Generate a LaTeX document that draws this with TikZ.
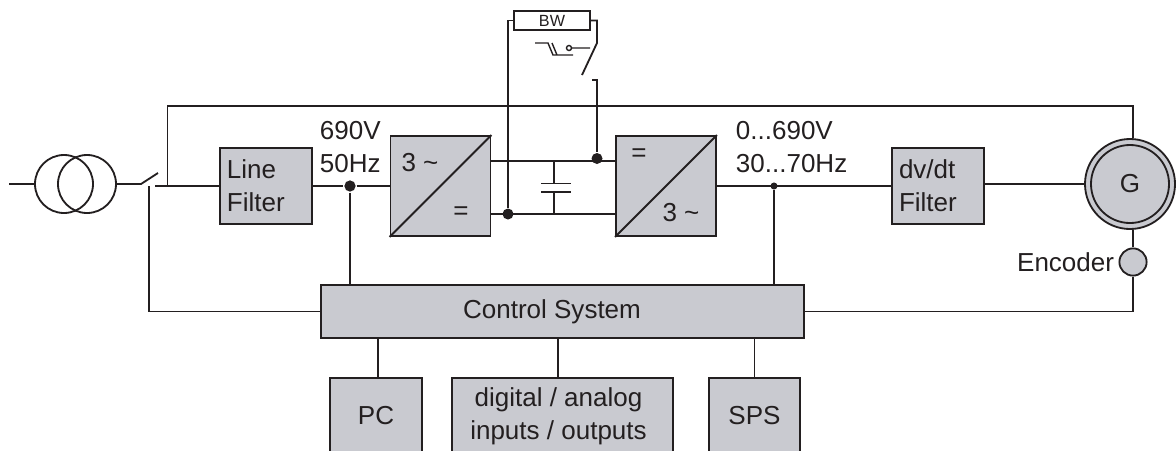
\documentclass[tikz,border=0pt]{standalone}
\usepackage{fontspec}
\setmainfont{Liberation Sans}
\usetikzlibrary{positioning}
\definecolor{boxgray}{HTML}{C9CAD0}
\definecolor{ink}{HTML}{231F20}
\begin{document}
\begin{tikzpicture}[x=0.025cm,y=-0.025cm,line width=1.3pt,color=ink,
				every node/.style={font=\fontsize{18.5}{23.5}\selectfont},
				block/.style={draw, fill=boxgray, inner sep=0pt, align=center},
				conv/.style={block, minimum size=2.5cm},
				filt/.style={block, minimum width=2.3cm, minimum height=1.9cm, text width=1.95cm, align=left},
				iobox/.style={block, minimum height=1.9cm},
				ring/.style={draw, circle, inner sep=0pt, minimum size=1.45cm},
				lbl/.style={inner sep=0pt, align=left},
				dot/.style={fill, circle, inner sep=0pt}]
			\clip (0,0) rectangle (1176,450);
			% mains side
			\coordinate (linein) at (9,184);
			\node[ring] (tra) at (64,184) {};
			\node[ring] (trb) at (87,184) {};
			\coordinate (swa) at (141,184);
			\coordinate (swb) at (158,173);
			\coordinate (swc) at (155,186);
			\coordinate (swd) at (149,186);
			\coordinate (tap) at (167.5,186);
			\coordinate (topr) at (1133,106);
			\node[filt] (flt) at (266,186) {Line\\Filter};
			\node[dot, minimum size=8pt] (dotin) at (350,186) {};
			\node[lbl, anchor=west] (inlbl) at (319,147) {690V\\50Hz};
			% converters
			\node[conv] (conva) at (440.5,186) {};
			\node[conv] (convb) at (666,186) {};
			\node[lbl] (threea) at (420,163) {3 \textasciitilde};
			\node[lbl] (eqa) at (461,213) {=};
			\node[lbl] (eqb) at (639,155) {=};
			\node[lbl] (threeb) at (681,213) {3 \textasciitilde};
			\draw (conva.south west) -- (conva.north east);
			\draw (convb.south west) -- (convb.north east);
			% dc link
			\coordinate (capt) at (554,161);
			\coordinate (capb) at (554,214);
			\coordinate (platet) at (554,183.5);
			\coordinate (plateb) at (554,191.7);
			\coordinate (platel) at (541,183.5);
			\coordinate (plater) at (571,183.5);
			\coordinate (platem) at (541,191.7);
			\coordinate (platen) at (571,191.7);
			\node[dot, minimum size=.275cm] (dotb) at (508,214) {};
			\node[dot, minimum size=.275cm] (dott) at (597,158.5) {};
			\draw (conva.east |- capt) -- (capt) -- (convb.west |- capt);
			\draw (conva.east |- capb) -- (capb) -- (convb.west |- capb);
			\draw (capt) -- (platet) (plateb) -- (capb);
			\draw (platel) -- (plater) (platem) -- (platen);
			% brake chopper
			\node[block, fill=white, minimum width=1.9cm, minimum height=0.475cm, font=\fontsize{11.5}{14}\selectfont] (bw) at (552,20.5) {BW};
			\coordinate (bwl) at (508,20.5);
			\coordinate (bwr) at (597,20.5);
			\coordinate (brka) at (597,43);
			\coordinate (brkb) at (582,75);
			\coordinate (brkc) at (592,80);
			\coordinate (brkd) at (597,80);
			\coordinate (acta) at (535,43);
			\coordinate (actb) at (548,43);
			\coordinate (actc) at (553,55);
			\coordinate (actd) at (573,55);
			\coordinate (acte) at (552,43);
			\coordinate (actf) at (557,55);
			\coordinate (actg) at (590,48);
			\node[draw, circle, inner sep=0pt, minimum size=.125cm, line width=1pt] (acth) at (569,48) {};
			\draw (dotb) -- (bwl) -- (bw.west);
			\draw (bw.east) -- (bwr) -- (brka) -- (brkb);
			\draw (brkc) -- (brkd) -- (dott);
			\draw[line width=1pt] (acta) -- (actb) -- (actc) -- (actd) (acte) -- (actf) (acth) -- (actg);
			% motor side
			\node[lbl, anchor=west] (outlbl) at (735,147) {0...690V\\30...70Hz};
			\node[dot, minimum size=5pt] (dotout) at (774,186) {};
			\node[filt] (dvf) at (938,186) {dv/dt\\Filter};
			\node[draw, circle, fill=boxgray, inner sep=0pt, minimum size=2.25cm] (genout) at (1130,184) {};
			\node[draw, circle, inner sep=0pt, minimum size=1.95cm] (gen) at (1130,184) {G};
			\node[draw, circle, fill=boxgray, inner sep=0pt, minimum size=0.68cm] (enc) at (1133,262) {};
			\node[lbl, left=2.5pt of enc] (enclbl) {Encoder};
			% control
			\node[block, minimum width=12.075cm, minimum height=1.325cm] (ctl) at (562.5,311.5) {};
			\node[lbl] (ctltxt) at (552,311.5) {Control System};
			\node[iobox, minimum width=2.3cm] (pc) at (376,416) {PC};
			\node[iobox, minimum width=5.525cm] (dio) at (562.5,416) {};
			\node[lbl, align=center] (diotxt) at (558.5,416) {digital / analog\\inputs / outputs};
			\node[iobox, minimum width=2.275cm] (sps) at (754.5,416) {SPS};
			% wiring
			\draw (linein) -- (tra.west);
			\draw (trb.east) -- (swa) -- (swb);
			\draw (swc) -- (flt.west);
			\draw (tap) |- (topr) -- (topr |- genout.north);
			\draw (swd) |- (ctl.west);
			\draw (flt.east) -- (dotin) -- (conva.west);
			\draw (dotin) -- (dotin |- ctl.north);
			\draw (convb.east) -- (dvf.west);
			\draw (dotout) -- (dotout |- ctl.north);
			\draw (dvf.east |- genout.west) -- (genout.west);
			\draw (enc.north) -- (enc.north |- genout.south);
			\draw (enc.south) |- (ctl.east);
			\foreach \nm/\dx in {pc/.05,dio/-.11,sps/0}
				\draw ([xshift=\dx cm]\nm.north) -- ([xshift=\dx cm]\nm.north |- ctl.south);
		\end{tikzpicture}
\end{document}
